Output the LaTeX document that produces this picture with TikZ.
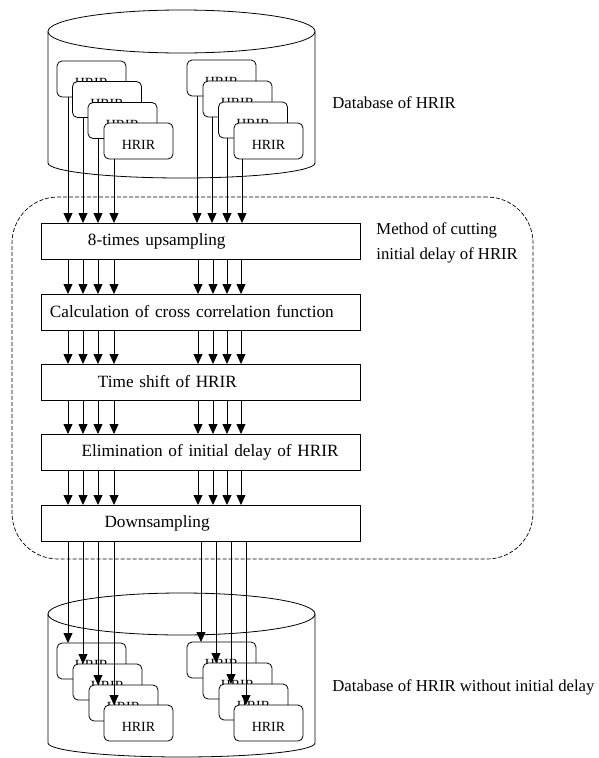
\documentclass[tikz,border=0pt]{standalone}
\usepackage{fontspec}
\setmainfont{Liberation Serif}
\usetikzlibrary{arrows.meta,calc}
\begin{document}
\begin{tikzpicture}[x=1pt,y=-1pt,line width=0.8pt,
  card/.style={draw, fill=white, rounded corners=5pt, minimum width=69pt, minimum height=36pt, inner sep=0pt, outer sep=0pt, anchor=north west, font=\fontsize{14}{16}\selectfont},
  stage/.style={draw, fill=white, anchor=north west, outer sep=0pt, minimum width=319pt, minimum height=36pt, text width=311pt, align=left, inner sep=4pt, font=\fontsize{17.2}{20}\selectfont},
  lbl/.style={anchor=west, inner sep=0pt, align=left, font=\fontsize{16.7}{25}\selectfont},
  arr/.style={-{Triangle[length=10pt,width=9pt]}},
  dashbox/.style={draw, dash pattern=on 4pt off 2pt, line width=0.7pt, rounded corners=46pt, anchor=north west, outer sep=0pt, inner sep=0pt, minimum width=521pt, minimum height=362pt}]
\useasboundingbox (0,0) rectangle (599,758);

% column coordinates
\coordinate (xL1) at (68,0);  \coordinate (xL2) at (83,0);
\coordinate (xL3) at (98,0);  \coordinate (xL4) at (114,0);
\coordinate (xT1) at (197,0); \coordinate (xT2) at (212,0);
\coordinate (xT3) at (227,0); \coordinate (xT4) at (242,0);
\coordinate (xM1) at (198,0); \coordinate (xM2) at (213,0);
\coordinate (xM3) at (227,0); \coordinate (xM4) at (241,0);
\coordinate (xB1) at (201,0); \coordinate (xB2) at (216,0);
\coordinate (xB3) at (231,0); \coordinate (xB4) at (246,0);

% top database cylinder
\draw (181.5,31.5) ellipse [x radius=133.5, y radius=21.5];
\draw (48,31.5) -- (48,163) arc [start angle=180, end angle=0, x radius=133.5, y radius=15] -- (315,31.5);

% bottom database cylinder
\draw (181.5,614) ellipse [x radius=133.5, y radius=21];
\draw (48,614) -- (48,743) arc [start angle=180, end angle=0, x radius=133.5, y radius=14] -- (315,614);

\newcommand{\hr}{\raisebox{-4pt}[\height][\depth]{HRIR}}
% top cards
\node[card] (tL1) at (57,61) {\hr};
\node[card] (tL2) at (72.5,81.5) {\hr};
\node[card] (tL3) at (88,102.5) {\hr};
\node[card] (tL4) at (104,123) {\hr};
\node[card] (tR1) at (187,60) {\hr};
\node[card] (tR2) at (203,81) {\hr};
\node[card] (tR3) at (218.5,102) {\hr};
\node[card] (tR4) at (234,123) {\hr};

% bottom cards
\node[card] (bL1) at (57,643) {\hr};
\node[card] (bL2) at (73,664) {\hr};
\node[card] (bL3) at (89,685) {\hr};
\node[card] (bL4) at (104,705) {\hr};
\node[card] (bR1) at (187,642) {\hr};
\node[card] (bR2) at (203,663) {\hr};
\node[card] (bR3) at (219,684) {\hr};
\node[card] (bR4) at (234,705) {\hr};

% method frame
\node[dashbox] (method) at (12,197) {};

% stages
\node[stage] (s1) at (41,223) {\hspace*{43pt}8-times upsampling};
\node[stage] (s2) at (41,294) {\hspace*{5pt}Calculation of cross correlation function};
\node[stage] (s3) at (41,364) {\hspace*{53pt}Time shift of HRIR};
\node[stage] (s4) at (41,434) {\hspace*{36.5pt}Elimination of initial delay of HRIR};
\node[stage] (s5) at (41,505) {\hspace*{59.5pt}Downsampling};

% labels
\node[lbl] (dbtop) at (332,103) {Database of HRIR};
\node[lbl] (mlbl) at (376,242.5) {Method of cutting\\initial delay of HRIR};
\node[lbl] (dbbot) at (332,687) {Database of HRIR without initial delay};

% connectors: database -> first stage
\foreach \i in {1,...,4} {
  \draw[arr] (tL\i.south -| xL\i) -- (s1.north -| xL\i);
  \draw[arr] (tR\i.south -| xT\i) -- (s1.north -| xT\i);
}
% connectors between stages
\foreach \a/\b in {s1/s2,s2/s3,s3/s4,s4/s5} {
  \foreach \i in {1,...,4} {
    \draw[arr] (\a.south -| xL\i) -- (\b.north -| xL\i);
    \draw[arr] (\a.south -| xM\i) -- (\b.north -| xM\i);
  }
}
% last stage -> output database
\foreach \i in {1,...,4} {
  \draw[arr] (s5.south -| xL\i) -- (bL\i.north -| xL\i);
  \draw[arr] (s5.south -| xB\i) -- (bR\i.north -| xB\i);
}
\end{tikzpicture}
\end{document}
